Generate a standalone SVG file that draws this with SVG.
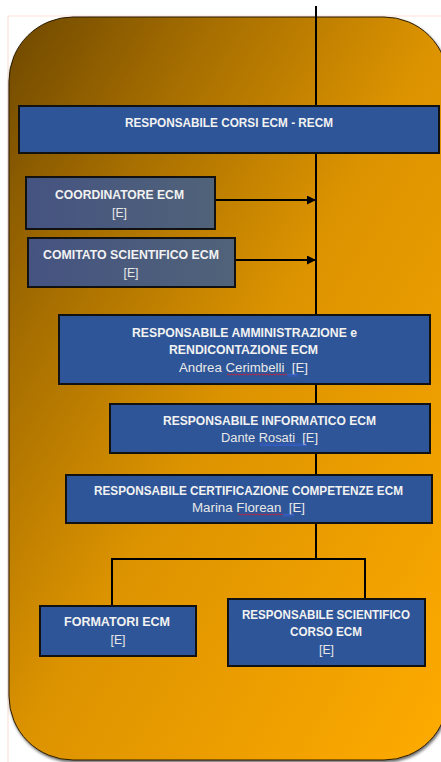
<svg xmlns="http://www.w3.org/2000/svg" width="441" height="762" viewBox="0 0 441 762">
<style>
.box{fill:#2e5597;stroke:#111;stroke-width:2}
.gbox{stroke:#111;stroke-width:2}
.t{font-family:"Liberation Sans",Arial,sans-serif;font-size:12px;font-weight:bold;fill:#f2f2f2;text-anchor:middle}
.r{font-family:"Liberation Sans",Arial,sans-serif;font-size:12px;font-weight:normal;fill:#e8e8e8;text-anchor:middle;white-space:pre}
.c{fill:none;stroke:#000;stroke-width:2}
.sq{fill:none;stroke:#d0203a;stroke-width:0.9}
.bl{fill:none;stroke:#3a5fd0;stroke-width:0.8}
</style>
<defs>
<linearGradient id="bg" x1="0" y1="0" x2="1" y2="1">
<stop offset="0" stop-color="#6e4800"/>
<stop offset="0.22" stop-color="#a36c00"/>
<stop offset="0.5" stop-color="#dc9300"/>
<stop offset="1" stop-color="#ffab00"/>
</linearGradient>
<linearGradient id="gb" x1="0" y1="0" x2="1" y2="0">
<stop offset="0" stop-color="#455381"/>
<stop offset="1" stop-color="#506379"/>
</linearGradient>
<filter id="sh" x="-5%" y="-5%" width="110%" height="110%">
<feDropShadow dx="1" dy="2" stdDeviation="1.5" flood-color="#000" flood-opacity="0.6"/>
</filter>
<marker id="ah" viewBox="0 0 10 10" refX="10" refY="5" markerWidth="4.5" markerHeight="4.5" orient="auto" markerUnits="strokeWidth">
<path d="M0,0 L10,5 L0,10 z" fill="#000"/>
</marker>
</defs>
<g id="frame">
<path d="M8,762 V16 H441" fill="none" stroke="#fbe3d6" stroke-width="1.2"/>
<rect x="9" y="17" width="439" height="743" rx="64" ry="64" fill="url(#bg)" stroke="#2a1c00" stroke-width="1" filter="url(#sh)"/>
</g>
<g id="connectors">
<line class="c" x1="316" y1="6" x2="316" y2="559"/>
<line class="c" x1="215" y1="200" x2="316" y2="200" marker-end="url(#ah)"/>
<line class="c" x1="235" y1="260" x2="316" y2="260" marker-end="url(#ah)"/>
<path class="c" d="M112,606 V559 H365 V599"/>
</g>
<g id="recm">
<rect class="box" x="19" y="106" width="420" height="47"/>
<text class="t" x="229" y="127" textLength="208" lengthAdjust="spacingAndGlyphs">RESPONSABILE CORSI ECM - RECM</text>
</g>
<g id="coordinatore">
<rect class="gbox" fill="url(#gb)" x="26" y="177" width="189" height="52"/>
<text class="t" x="119.5" y="198.5" textLength="129" lengthAdjust="spacingAndGlyphs">COORDINATORE ECM</text>
<text class="r" x="119.5" y="216.5" textLength="15" lengthAdjust="spacingAndGlyphs">[E]</text>
</g>
<g id="comitato">
<rect class="gbox" fill="url(#gb)" x="28" y="238" width="207" height="49"/>
<text class="t" x="131" y="259" textLength="176" lengthAdjust="spacingAndGlyphs">COMITATO SCIENTIFICO ECM</text>
<text class="r" x="131" y="276.5" textLength="15" lengthAdjust="spacingAndGlyphs">[E]</text>
</g>
<g id="amministrazione">
<rect class="box" x="59" y="315" width="371" height="69"/>
<text class="t" x="244.5" y="336.5" textLength="225" lengthAdjust="spacingAndGlyphs">RESPONSABILE AMMINISTRAZIONE e</text>
<text class="t" x="243.5" y="353.5" textLength="149" lengthAdjust="spacingAndGlyphs">RENDICONTAZIONE ECM</text>
<text class="r" x="243.5" y="372" textLength="129" lengthAdjust="spacingAndGlyphs" xml:space="preserve">Andrea Cerimbelli  [E]</text>
<path class="sq" d="M227,375 l1.5,-1 l1.5,1 l1.5,-1 l1.5,1 l1.5,-1 l1.5,1 l1.5,-1 l1.5,1 l1.5,-1 l1.5,1 l1.5,-1 l1.5,1 l1.5,-1 l1.5,1 l1.5,-1 l1.5,1 l1.5,-1 l1.5,1 l1.5,-1 l1.5,1 l1.5,-1 l1.5,1 l1.5,-1 l1.5,1 l1.5,-1 l1.5,1 l1.5,-1 l1.5,1 l1.5,-1 l1.5,1 l1.5,-1 l1.5,1 l1.5,-1 l1.5,1 l1.5,-1 l1.5,1 l1.5,-1 l1.5,1 l1.5,-1 l1.5,1"/>
<path class="bl" d="M287,374.5 H298 M287,376 H298"/>
</g>
<g id="informatico">
<rect class="box" x="110" y="404" width="320" height="49"/>
<text class="t" x="269.5" y="425" textLength="213" lengthAdjust="spacingAndGlyphs">RESPONSABILE INFORMATICO ECM</text>
<text class="r" x="269.5" y="442" textLength="97" lengthAdjust="spacingAndGlyphs" xml:space="preserve">Dante Rosati  [E]</text>
<path class="bl" d="M260,444 H307 M260,445.5 H307"/>
</g>
<g id="certificazione">
<rect class="box" x="66" y="475" width="366" height="48"/>
<text class="t" x="248.5" y="495" textLength="309" lengthAdjust="spacingAndGlyphs">RESPONSABILE CERTIFICAZIONE COMPETENZE ECM</text>
<text class="r" x="248.5" y="512" textLength="113" lengthAdjust="spacingAndGlyphs" xml:space="preserve">Marina Florean  [E]</text>
<path class="sq" d="M238,515 l1.5,-1 l1.5,1 l1.5,-1 l1.5,1 l1.5,-1 l1.5,1 l1.5,-1 l1.5,1 l1.5,-1 l1.5,1 l1.5,-1 l1.5,1 l1.5,-1 l1.5,1 l1.5,-1 l1.5,1 l1.5,-1 l1.5,1 l1.5,-1 l1.5,1 l1.5,-1 l1.5,1 l1.5,-1 l1.5,1 l1.5,-1 l1.5,1 l1.5,-1 l1.5,1 l1.5,-1 l1.5,1"/>
<path class="bl" d="M283,514.5 H294 M283,516 H294"/>
</g>
<g id="formatori">
<rect class="box" x="40" y="606" width="156" height="50"/>
<text class="t" x="117" y="626" textLength="106" lengthAdjust="spacingAndGlyphs">FORMATORI ECM</text>
<text class="r" x="118" y="644" textLength="15" lengthAdjust="spacingAndGlyphs">[E]</text>
</g>
<g id="scientifico">
<rect class="box" x="228" y="599" width="197" height="67"/>
<text class="t" x="326" y="618.5" textLength="168" lengthAdjust="spacingAndGlyphs">RESPONSABILE SCIENTIFICO</text>
<text class="t" x="326" y="636" textLength="72" lengthAdjust="spacingAndGlyphs">CORSO ECM</text>
<text class="r" x="326.5" y="654" textLength="15" lengthAdjust="spacingAndGlyphs">[E]</text>
</g>
</svg>
